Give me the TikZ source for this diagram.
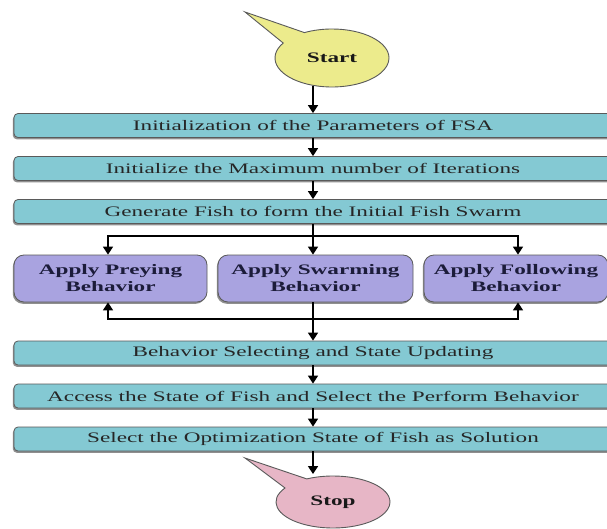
\documentclass[tikz,border=0pt]{standalone}
\usepackage{fontspec}
\setmainfont[FakeStretch=1.6]{Liberation Serif}
\usetikzlibrary{shapes.callouts,shadows,arrows.meta}
\definecolor{boxcyan}{HTML}{84C9D3}
\definecolor{boxlav}{HTML}{A9A3E0}
\definecolor{startyel}{HTML}{ECEB8C}
\definecolor{stoppink}{HTML}{E7B6C6}
\definecolor{edgegray}{HTML}{5A5A5A}
\definecolor{inkblue}{HTML}{1C1C3A}
\begin{document}
\begin{tikzpicture}[x=1pt,y=-1pt,
  txt/.style={font=\fontsize{14.5}{17}\selectfont},
  cyanbox/.style={txt, draw=edgegray, line width=0.8pt, fill=boxcyan, rounded corners=4pt,
    minimum height=24pt, minimum width=598pt, inner sep=0pt, text=black!85,
    drop shadow={shadow xshift=-1.2pt, shadow yshift=-1.8pt, fill=black!55, opacity=0.8}},
  lavbox/.style={txt, draw=edgegray, line width=0.8pt, fill=boxlav, rounded corners=10pt,
    minimum height=47pt, inner sep=0pt, align=center, text=inkblue, font=\fontsize{14.5}{17}\selectfont\bfseries,
    drop shadow={shadow xshift=-1.2pt, shadow yshift=-1.8pt, fill=black!55, opacity=0.8}},
  bubble/.style={ellipse callout, draw=edgegray, line width=0.9pt, inner sep=0pt,
    minimum width=114pt, callout pointer arc=30, text=black!90,
    font=\fontsize{14.5}{17}\selectfont\bfseries},
  conn/.style={line width=1.7pt, black},
  arr/.style={conn, -{Triangle[width=10pt,length=8pt]}}
]
\useasboundingbox (0,0) rectangle (607,529);
\fill[white] (0,0) rectangle (607,529);

% start / stop
\node[bubble, fill=startyel, minimum height=58pt, callout absolute pointer={(245,12)}] (start) at (332,58) {Start};

\node[cyanbox] (b1) at (313,125.5) {Initialization of the Parameters of FSA};
\node[cyanbox] (b2) at (313,168.5) {Initialize the Maximum number of Iterations};
\node[cyanbox] (b3) at (313,211.5) {Generate Fish to form the Initial Fish Swarm};

\node[lavbox, minimum width=193pt] (prey) at (110.5,278.5) {Apply Preying\\Behavior};
\node[lavbox, minimum width=195pt] (swarm) at (315.5,278.5) {Apply Swarming\\Behavior};
\node[lavbox, minimum width=184pt] (follow) at (516,278.5) {Apply Following\\Behavior};

\node[cyanbox] (b4) at (313,353) {Behavior Selecting and State Updating};
\node[cyanbox] (b5) at (313,396) {Access the State of Fish and Select the Perform Behavior};
\node[cyanbox] (b6) at (313,439) {Select the Optimization State of Fish as Solution};

\node[bubble, fill=stoppink, minimum height=52pt, callout absolute pointer={(245,458)}] (stop) at (333,502) {Stop};

% connectors
\coordinate (s0) at (313,86);
\draw[arr] (s0) -- (b1.north);
\draw[arr] (b1.south) -- (b2.north);
\draw[arr] (b2.south) -- (b3.north);

\coordinate (bt) at (313,236);
\coordinate (bl) at (108,236);
\coordinate (br) at (518,236);
\draw[conn] (b3.south) -- (bt);
\draw[conn, line cap=rect] (bl) -- (br);
\draw[arr] (bl) -- (bl |- prey.north);
\draw[arr] (bt) -- (bt |- swarm.north);
\draw[arr] (br) -- (br |- follow.north);

\coordinate (fb) at (313,319);
\coordinate (fl) at (108,319);
\coordinate (fr) at (518,319);
\draw[conn] (bt |- swarm.south) -- (fb);
\draw[conn, line cap=rect] (fl) -- (fr);
\draw[arr] (fl) -- (fl |- prey.south);
\draw[arr] (fr) -- (fr |- follow.south);
\draw[arr] (fb) -- (b4.north);

\draw[arr] (b4.south) -- (b5.north);
\draw[arr] (b5.south) -- (b6.north);
\coordinate (e0) at (313,474);
\draw[arr] (b6.south) -- (e0);
\end{tikzpicture}
\end{document}
